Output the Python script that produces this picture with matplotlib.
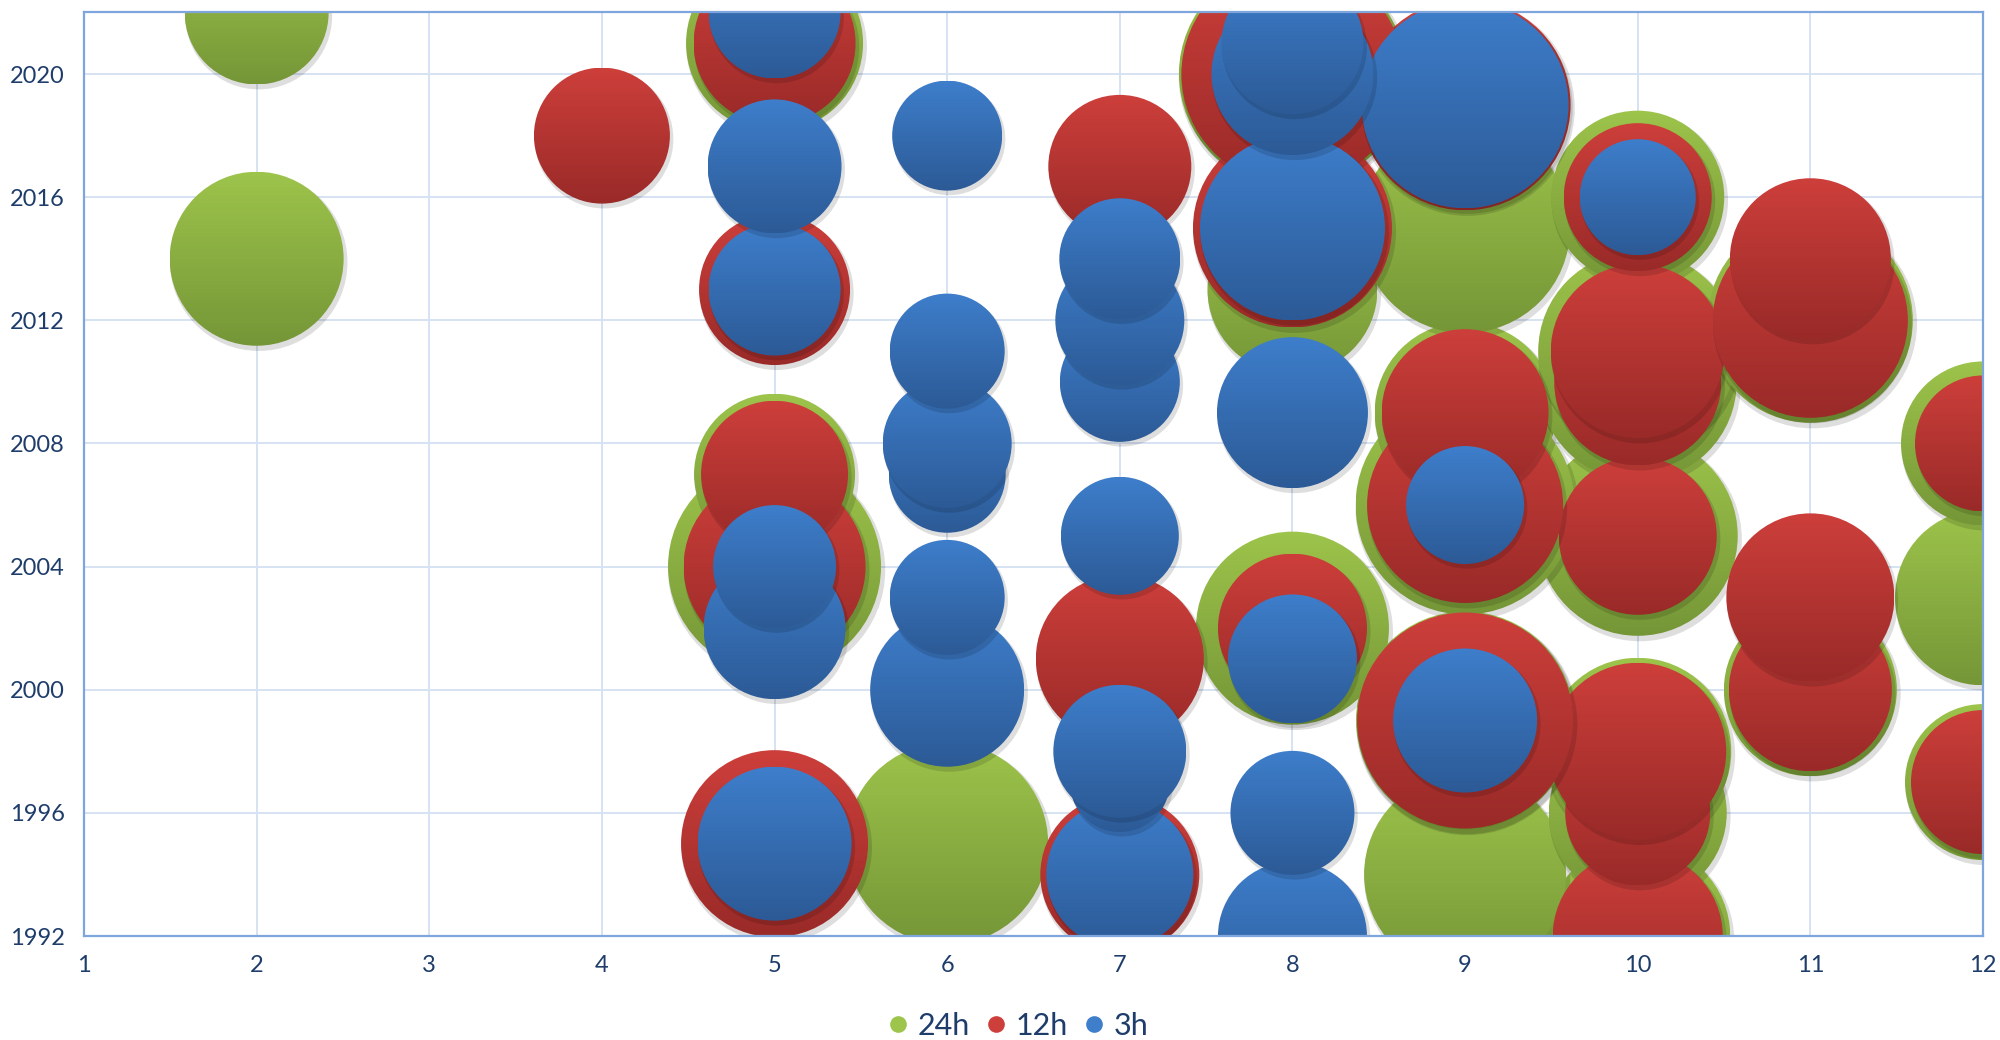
import matplotlib
matplotlib.use("Agg")
import matplotlib.pyplot as plt
import matplotlib.transforms as mtransforms
import numpy as np
from matplotlib.patches import Ellipse
from matplotlib.colors import LinearSegmentedColormap
from matplotlib.lines import Line2D

plt.rcParams['font.family'] = ['Lato', 'DejaVu Sans']

# --- data: x position, year, bubble size ---
x_24h = [2, 2, 5, 5, 5, 6, 8, 8, 8, 9, 9, 9, 9, 9, 10, 10, 10, 10, 10, 10, 10, 11, 11, 12, 12, 12]
y_24h = [2022, 2014, 2021, 2007, 2004, 1995, 2020, 2013, 2002, 2015, 2009, 2006, 1999, 1994,
         2016, 2011, 2010, 2005, 1998, 1996, 1992, 2012, 2000, 2008, 2003, 1997]
s_24h = [144, 174, 177, 161, 213, 202, 227, 170, 193, 210, 181, 219, 218, 202,
         173, 199, 198, 200, 187, 178, 185, 205, 173, 164, 176, 156]

x_12h = [4, 5, 5, 5, 5, 5, 7, 7, 7, 8, 8, 8, 9, 9, 9, 9, 10, 10, 10, 10, 10, 10, 10, 11, 11, 11, 11, 12, 12]
y_12h = [2018, 2021, 2013, 2007, 2004, 1995, 2017, 2001, 1994, 2020, 2015, 2002, 2019, 2009, 2006, 1999,
         2016, 2011, 2010, 2005, 1998, 1996, 1992, 2014, 2012, 2003, 2000, 2008, 1997]
s_12h = [136, 162, 151, 147, 182, 187, 143, 168, 159, 222, 199, 149, 211, 167, 196, 216,
         148, 174, 167, 158, 177, 145, 170, 161, 195, 168, 163, 136, 144]

x_3h = [5, 5, 5, 5, 5, 5, 6, 6, 6, 6, 6, 6, 7, 7, 7, 7, 7, 7, 7, 8, 8, 8, 8, 8, 8, 8, 9, 9, 9, 10]
y_3h = [2022, 2017, 2013, 2004, 2002, 1995, 2018, 2011, 2008, 2007, 2003, 2000,
        2014, 2012, 2010, 2005, 1998, 1997, 1994, 2021, 2020, 2015, 2009, 2001, 1996, 1992,
        2019, 2006, 1999, 2016]
s_3h = [132, 134, 132, 123, 142, 154, 110, 115, 129, 117, 115, 154,
        121, 129, 120, 118, 133, 100, 147, 142, 162, 185, 151, 129, 124, 149,
        207, 118, 144, 116]

labels = ['24h', '12h', '3h']
# (top colour, bottom colour) of the gradient fill
fills = [('#9DC44B', '#759637'), ('#CD3F3B', '#992A28'), ('#3E7ECB', '#2C5A96')]

fig = plt.figure(figsize=(20, 10.4), dpi=100)
ax = fig.add_axes([0.042, 0.1, 0.9495, 0.888])

bb = ax.get_window_extent()
px_x = bb.width / 11.0
px_y = bb.height / 30.0

grad = np.linspace(0, 1, 256).reshape(-1, 1)
shadow_tr = ax.transData + mtransforms.ScaledTranslation(1.5 / 72, -2.5 / 72, fig.dpi_scale_trans)

z = 2.0
series = [(x_24h, y_24h, s_24h), (x_12h, y_12h, s_12h), (x_3h, y_3h, s_3h)]
for (xs, ys, ss), (top, bot) in zip(series, fills):
    cmap = LinearSegmentedColormap.from_list('g', [top, bot])
    pts = sorted(zip(xs, ys, ss), key=lambda p: (p[1], p[0]))
    for x, y, s in pts:
        w = s / px_x
        h = s / px_y
        # soft drop shadow
        ax.add_patch(Ellipse((x, y), w * 1.02, h * 1.02, transform=shadow_tr,
                             facecolor='black', edgecolor='none', alpha=0.13, zorder=z))
        clip = Ellipse((x, y), w, h, transform=ax.transData)
        im = ax.imshow(grad, cmap=cmap, extent=(x - w / 2, x + w / 2, y - h / 2, y + h / 2),
                       origin='upper', aspect='auto', interpolation='bilinear', zorder=z + 0.5)
        im.set_clip_path(clip)
        z += 1

ax.set_xlim(1, 12)
ax.set_ylim(1992, 2022)
ax.set_aspect('auto')
ax.set_xticks(range(1, 13))
ax.set_yticks(range(1992, 2021, 4))
ax.grid(True, color='#D6E2F3', linewidth=1.4)
ax.set_axisbelow(True)
ax.tick_params(length=0, pad=14, labelsize=17, labelcolor='#1F3D6B')
for sp in ax.spines.values():
    sp.set_color('#7EA6DC')
    sp.set_linewidth(1.6)
    sp.set_zorder(z + 5)

handles = [Line2D([], [], marker='o', ls='', markersize=12,
                  markerfacecolor=f[0], markeredgecolor='none') for f in fills]
fig.legend(handles, labels, loc='center', bbox_to_anchor=(0.509, 1 - 1026 / 1040), ncol=3,
           frameon=False, fontsize=22, handlelength=0.7, handletextpad=0.3,
           columnspacing=0.5, labelcolor='#1F3D6B', borderpad=0)

fig.savefig('out.png', dpi=100)
